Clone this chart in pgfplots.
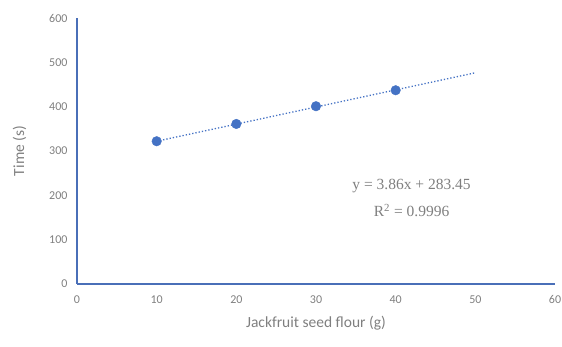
\documentclass[border=0pt]{standalone}
\usepackage{pgfplots}
\pgfplotsset{compat=1.18}
\usepackage{fontspec}
\setmainfont{Carlito}
\newfontfamily\eqfont{Liberation Serif}
\definecolor{axblue}{HTML}{4A6FB8}
\definecolor{ptblue}{HTML}{4472C4}
\definecolor{txtgray}{HTML}{7F7F7F}
\begin{document}
\begin{tikzpicture}
\useasboundingbox (-77pt,-63pt) rectangle (485pt,284pt);
\begin{axis}[
  at={(0,0)}, anchor=south west,
  scale only axis, width=478pt, height=266pt,
  xmin=0, xmax=60, ymin=0, ymax=600,
  xtick={0,10,...,60}, ytick={0,100,...,600},
  axis x line=bottom, axis y line=left,
  axis line style={-, draw=axblue, line width=2.4pt},
  major tick length=0pt,
  tick label style={font=\fontsize{12}{14}\selectfont, text=txtgray},
  /pgf/number format/assume math mode=true,
  xticklabel style={yshift=-8pt},
  yticklabel style={xshift=-6pt},
  xlabel={Jackfruit seed flour (g)},
  ylabel={Time (s)},
  label style={font=\fontsize{15.5}{18}\selectfont, text=txtgray},
  xlabel style={yshift=-6pt},
  ylabel style={yshift=16pt},
  clip=false,
]
\addplot[ptblue, line width=1.3pt, dotted, forget plot] coordinates {(10,322.05) (50,476.45)};
\addplot[only marks, mark=*, mark size=4.8pt, mark options={fill=ptblue, draw=ptblue}] coordinates {
(10,322) (20,361) (30,401) (40,437)};
\node[font=\eqfont\fontsize{15.5}{27}\selectfont, text=txtgray, align=center] at (axis cs:42.0,194) {y = 3.86x + 283.45\\R\textsuperscript{2} = 0.9996};
\end{axis}
\end{tikzpicture}
\end{document}
